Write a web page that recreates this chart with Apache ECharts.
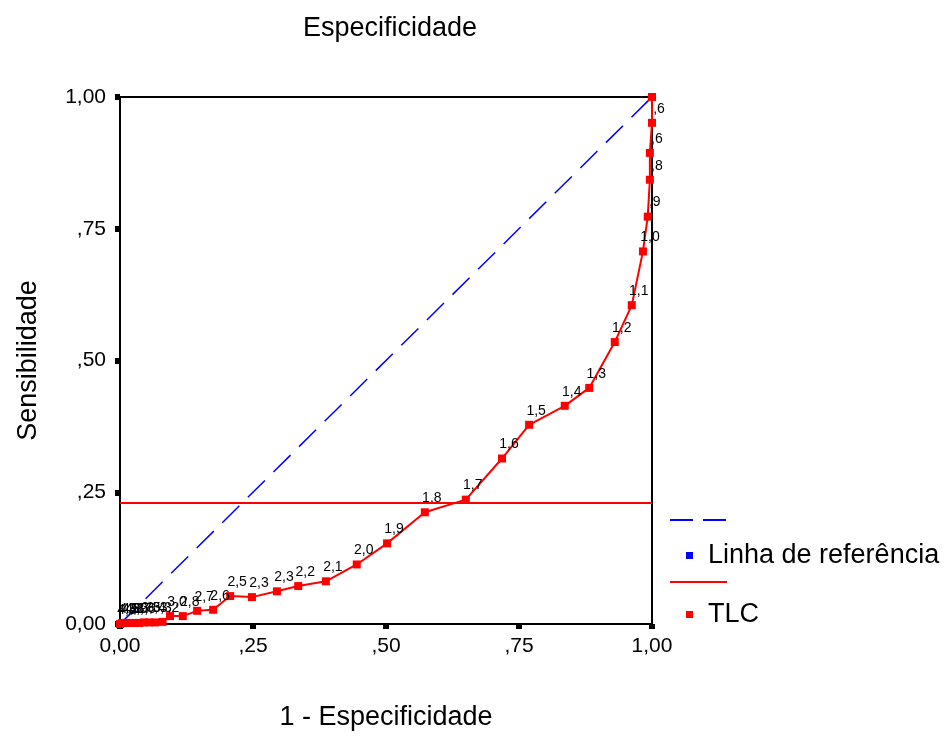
<!DOCTYPE html>
<html>
<head>
<meta charset="utf-8">
<script src="https://cdn.jsdelivr.net/npm/echarts@6/dist/echarts.min.js"></script>
<style>
  html, body { margin: 0; padding: 0; background: #fff; }
  #chart { width: 947px; height: 736px; }
</style>
</head>
<body>
<div id="chart"></div>
<script>
// tick labels (SPSS style, comma decimal, no leading zero)
const xTickLabels = ['0,00', ',25', ',50', ',75', '1,00'];
const yTickLabels = ['0,00', ',25', ',50', ',75', '1,00'];

// ROC curve of TLC: 1 - specificity, sensitivity, cutoff label
const fpr = [0, 0.004, 0.009, 0.015, 0.021, 0.028, 0.036, 0.045, 0.055, 0.066, 0.080, 0.094,
  0.118, 0.145, 0.175, 0.207, 0.248, 0.295, 0.335, 0.387, 0.445, 0.502, 0.573, 0.650,
  0.718, 0.769, 0.836, 0.882, 0.930, 0.962, 0.983, 0.992, 0.996, 0.996, 1.0, 1.0];
const tpr = [0, 0.002, 0.002, 0.002, 0.002, 0.002, 0.002, 0.003, 0.003, 0.003, 0.004, 0.015,
  0.015, 0.025, 0.027, 0.053, 0.051, 0.062, 0.072, 0.081, 0.113, 0.153, 0.212, 0.236,
  0.314, 0.378, 0.414, 0.448, 0.535, 0.605, 0.707, 0.773, 0.843, 0.894, 0.951, 1.0];
const cutoffs = ['4,8', '4,5', '4,3', '4,1', '3,9', '3,7', '3,6', '3,5', '3,4', '3,3', '3,2', '3,0',
  '2,8', '2,7', '2,6', '2,5', '2,3', '2,3', '2,2', '2,1', '2,0', '1,9', '1,8', '1,7',
  '1,6', '1,5', '1,4', '1,3', '1,2', '1,1', '1,0', ',9', ',8', ',6', ',6', ''];

// diagonal reference line and horizontal cut line
const refX = [0, 1];
const refY = [0, 1];
const cutLineY = 0.227;

const seriesNames = ['Linha de referência', 'TLC'];

const font = 'Liberation Sans, Arial, sans-serif';

const chart = echarts.init(document.getElementById('chart'));

const tlcData = fpr.map((x, i) => ({ value: [x, tpr[i]], label: { formatter: cutoffs[i] } }));
const refData = refX.map((x, i) => [x, refY[i]]);

const axisCommon = {
  type: 'value',
  min: 0,
  max: 1,
  interval: 0.25,
  axisLine: { show: true, lineStyle: { color: '#000', width: 2 } },
  axisTick: { show: true, length: 5, lineStyle: { color: '#000', width: 6 } },
  splitLine: { show: false },
  nameLocation: 'middle',
  nameTextStyle: { fontSize: 27, color: '#000', fontFamily: font }
};

const option = {
  backgroundColor: '#fff',
  animation: false,
  title: {
    text: 'Especificidade',
    left: 298,
    top: 10,
    textStyle: { fontSize: 27, fontWeight: 'normal', color: '#000', fontFamily: font }
  },
  grid: {
    left: 120, right: 295, top: 97, bottom: 110,
    show: true, borderColor: '#000', borderWidth: 2
  },
  xAxis: Object.assign({}, axisCommon, {
    name: '1 - Especificidade',
    nameGap: 80,
    axisLabel: {
      fontSize: 21, color: '#000', fontFamily: font, margin: 12,
      formatter: v => xTickLabels[Math.round(v / 0.25)]
    }
  }),
  yAxis: Object.assign({}, axisCommon, {
    name: 'Sensibilidade',
    nameGap: 78,
    axisLabel: {
      fontSize: 21, color: '#000', fontFamily: font, margin: 14,
      formatter: v => yTickLabels[Math.round(v / 0.25)]
    }
  }),
  legend: {
    orient: 'vertical',
    left: 681,
    top: 537,
    itemWidth: 7,
    itemHeight: 7,
    itemGap: 32,
    icon: 'rect',
    itemStyle: { borderWidth: 0 },
    textStyle: { fontSize: 27, color: '#000', fontFamily: font, padding: [0, 0, 0, 10] },
    data: seriesNames
  },
  graphic: [
    { type: 'line', shape: { x1: 670, y1: 520, x2: 727, y2: 520 },
      style: { stroke: '#0000ff', lineWidth: 2, lineDash: [23, 10] } },
    { type: 'line', shape: { x1: 670, y1: 582, x2: 727, y2: 582 },
      style: { stroke: '#ff0000', lineWidth: 2 } }
  ],
  series: [
    {
      name: seriesNames[0],
      type: 'line',
      data: refData,
      symbol: 'none',
      color: '#0000ff',
      lineStyle: { color: '#0000ff', width: 1.5, type: [24, 12] },
      z: 2,
      silent: true
    },
    {
      name: seriesNames[1],
      type: 'line',
      data: tlcData,
      symbol: 'rect',
      symbolSize: 8,
      clip: false,
      color: '#ff0000',
      lineStyle: { color: '#ff0000', width: 2 },
      itemStyle: { color: '#ff0000' },
      label: {
        show: true,
        position: 'top',
        distance: 3,
        offset: [7, 0],
        fontSize: 14,
        color: '#000',
        fontFamily: font
      },
      markLine: {
        silent: true,
        symbol: ['none', 'none'],
        label: { show: false },
        lineStyle: { color: '#ff0000', width: 2, type: 'solid' },
        data: [{ yAxis: cutLineY }]
      },
      z: 3
    }
  ]
};

chart.setOption(option);
</script>
</body>
</html>
